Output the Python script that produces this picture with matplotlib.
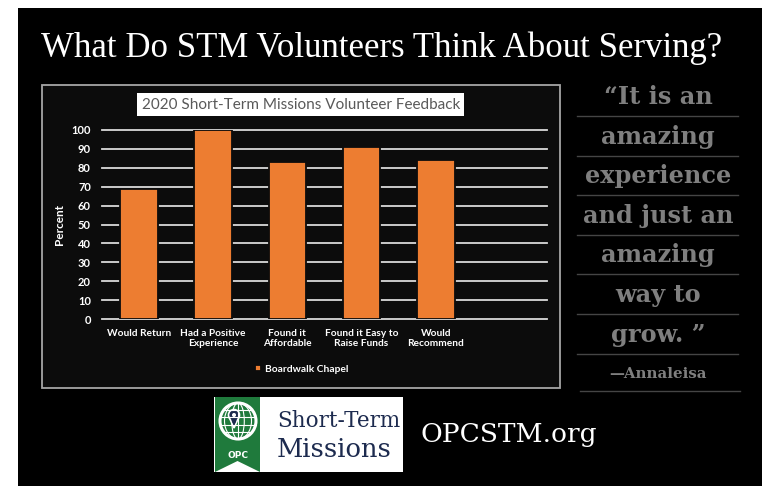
import matplotlib
matplotlib.use('Agg')
import matplotlib.pyplot as plt
from matplotlib.patches import Rectangle, Polygon, Circle, Ellipse
import numpy as np

# data
categories = ['Would Return', 'Had a Positive\nExperience', 'Found it\nAffordable',
              'Found it Easy to\nRaise Funds', 'Would\nRecommend']
percent = [69, 100, 83, 91, 84]
series_name = 'Boardwalk Chapel'
y_ticks = list(range(0, 101, 10))

quote_lines = ['\u201cIt is an', 'amazing', 'experience', 'and just an',
               'amazing', 'way to', 'grow. \u201d']
quote_author = '\u2014Annaleisa'

W, H = 767, 486
ORANGE = '#ED7D31'
CHART_BG = '#0c0c0c'

fig = plt.figure(figsize=(W / 100, H / 100), dpi=100)
fig.patch.set_facecolor('white')

bg = fig.add_axes([0, 0, 1, 1])
bg.set_xlim(0, W)
bg.set_ylim(H, 0)
bg.axis('off')

# poster background
bg.add_patch(Rectangle((18, 8), 744, 480, facecolor='black', edgecolor='none'))

# headline (the original is a condensed serif; fit width instead)
bg.text(382, 57, 'What Do STM Volunteers Think About Serving?', ha='center', va='baseline',
        color='white', family='Liberation Serif', fontsize=25)

# chart frame
bg.add_patch(Rectangle((42, 85), 518, 303, facecolor=CHART_BG, edgecolor='#a6a6a6', lw=1.3))
bg.add_patch(Rectangle((137, 93), 327, 23, facecolor='white', edgecolor='none'))
bg.text(301, 105, '2020 Short-Term Missions Volunteer Feedback', ha='center', va='center',
        color='#595959', family='Lato', fontsize=11)

# bar chart
ax = fig.add_axes([102 / W, 1 - 319 / H, 445 / W, 189 / H])
ax.set_facecolor('none')
x = np.arange(len(categories))
ax.bar(x, percent, width=0.51, color=ORANGE, edgecolor=CHART_BG, lw=1.3, zorder=3, label=series_name)
ax.set_xlim(-0.5, 5.5)
ax.set_ylim(0, 100)
ax.set_yticks(y_ticks)
ax.set_xticks(x)
ax.set_xticklabels(categories, linespacing=1.25)
ax.grid(axis='y', color='#d9d9d9', lw=1.3)
ax.set_axisbelow(True)
for gl in ax.get_ygridlines():
    gl.set_clip_on(False)
for s in ax.spines.values():
    s.set_visible(False)
ax.tick_params(axis='y', length=0, pad=8, labelcolor='white', labelsize=8)
ax.tick_params(axis='x', length=0, pad=7, labelcolor='white', labelsize=7.3)
for lab in ax.get_xticklabels() + ax.get_yticklabels():
    lab.set_family('Lato')
    lab.set_fontweight('bold')
ax.set_ylabel('Percent', color='white', family='Lato', fontweight='bold', fontsize=8.5)
ax.yaxis.set_label_coords(-0.083, 0.5)
ax.legend(loc='center', bbox_to_anchor=(302 / W, 1 - 369 / H), bbox_transform=fig.transFigure,
          frameon=False, handlelength=0.6, handleheight=0.6, handletextpad=0.4,
          labelcolor='white', prop={'family': 'Lato', 'weight': 'bold', 'size': 7.4})

# quote on the right
qx = 658
for i, line in enumerate(quote_lines):
    y = 97 + 39.6 * i
    bg.text(qx, y, line, ha='center', va='center', color='#7f7f7f',
            family='DejaVu Serif', fontweight='bold', fontsize=17.3)
    bg.plot([577, 738], [y + 19, y + 19], color='#454545', lw=1)
bg.text(qx, 374, quote_author, ha='center', va='center', color='#7f7f7f',
        family='DejaVu Serif', fontweight='bold', fontsize=10.8)
bg.plot([580, 740], [391, 391], color='#454545', lw=1)

# logo
bg.add_patch(Rectangle((214, 397), 189, 75, facecolor='white', edgecolor='none'))
bg.add_patch(Polygon([(215, 397), (260, 397), (260, 472), (237.5, 461), (215, 472)],
                     closed=True, facecolor='#1f7a3c', edgecolor='none'))
gx, gy, gr = 238, 421, 18
bg.add_patch(Circle((gx, gy), gr, fill=False, edgecolor='white', lw=2.2))
for wf in [0.35, 0.75]:
    bg.add_patch(Ellipse((gx, gy), 2 * gr * wf, 2 * gr, fill=False, edgecolor='white', lw=0.8))
bg.plot([gx, gx], [gy - gr, gy + gr], color='white', lw=0.8)
for dy in [-11, -4, 4, 11]:
    hw = np.sqrt(gr ** 2 - dy ** 2)
    bg.plot([gx - hw, gx + hw], [gy + dy, gy + dy], color='white', lw=0.8)
px, py = 234, 415
bg.add_patch(Polygon([(px - 5.2, py + 1.5), (px + 5.2, py + 1.5), (px, py + 13)], closed=True,
                     facecolor='#1d2b4f', edgecolor='white', lw=1.2))
bg.add_patch(Circle((px, py), 5.5, facecolor='#1d2b4f', edgecolor='white', lw=1.2))
bg.add_patch(Polygon([(px - 4.2, py + 1.5), (px + 4.2, py + 1.5), (px, py + 11)], closed=True,
                     facecolor='#1d2b4f', edgecolor='none'))
bg.add_patch(Circle((px, py), 2, facecolor='white', edgecolor='none'))
bg.text(gx, 455, 'OPC', ha='center', va='center', color='white', family='DejaVu Sans',
        fontweight='bold', fontsize=6.5)
bg.text(277, 427, 'Short-Term', ha='left', va='baseline', color='#1d2b4f',
        family='DejaVu Serif', fontsize=15.5)
bg.text(277, 457, 'Missions', ha='left', va='baseline', color='#1d2b4f',
        family='DejaVu Serif', fontsize=18.5)

bg.text(420, 442, 'OPCSTM.org', ha='left', va='baseline', color='white',
        family='DejaVu Serif', fontsize=19)

fig.savefig('out.png', dpi=100, facecolor=fig.get_facecolor())
